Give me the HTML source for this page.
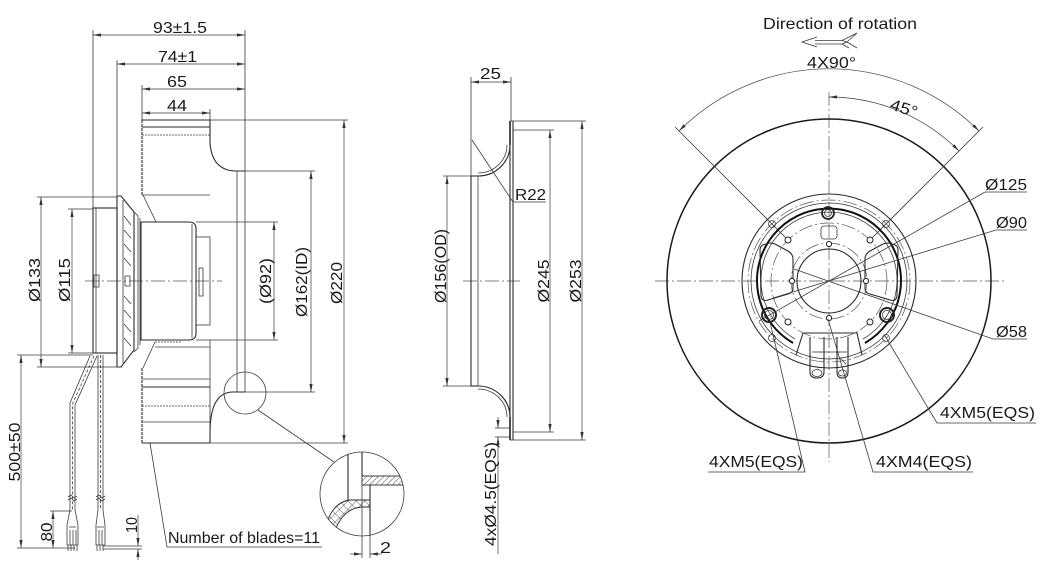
<!DOCTYPE html>
<html><head><meta charset="utf-8"><style>
html,body{margin:0;padding:0;background:#fff;}
svg{display:block;}
text{font-family:"Liberation Sans",Arial,sans-serif;font-size:16px;fill:#1a1a1a;}
.t{stroke:#3a3a3a;stroke-width:0.8;fill:none;}
.k{stroke:#1a1a1a;stroke-width:1.5;fill:none;}
.m{stroke:#2a2a2a;stroke-width:1.1;fill:none;}
.c{stroke:#555;stroke-width:0.7;fill:none;stroke-dasharray:14 3 2 3;}
.h{stroke:#3a3a3a;stroke-width:0.7;fill:none;}
</style></head><body>
<svg width="1049" height="571" viewBox="0 0 1049 571" xmlns="http://www.w3.org/2000/svg">
<defs>
<marker id="a" viewBox="0 0 10 4" refX="10" refY="2" markerWidth="8" markerHeight="3.2" orient="auto-start-reverse" markerUnits="userSpaceOnUse"><path d="M0,0 L10,2 L0,4 Z" fill="#333"/></marker>
<pattern id="hatch" width="4" height="4" patternUnits="userSpaceOnUse" patternTransform="rotate(45)"><line x1="0" y1="0" x2="0" y2="4" stroke="#333" stroke-width="0.9"/></pattern>
<pattern id="xhatch" width="6" height="6" patternUnits="userSpaceOnUse" patternTransform="rotate(45)"><path d="M0,0 V6 M0,0 H6" stroke="#333" stroke-width="0.8" fill="none"/></pattern>
<clipPath id="dc"><circle cx="362" cy="494" r="42"/></clipPath>
</defs>

<!-- ================= LEFT VIEW ================= -->
<line class="c" x1="85" y1="281" x2="222" y2="281"/>

<line class="t" x1="93" y1="30" x2="93" y2="208"/>
<line class="t" x1="245" y1="30" x2="245" y2="392"/>
<line class="t" x1="237" y1="171" x2="237" y2="392"/>
<line class="t" x1="117" y1="60" x2="117" y2="196"/>
<line class="t" x1="142" y1="85" x2="142" y2="120"/>
<line class="t" x1="210" y1="109" x2="210" y2="120"/>
<line class="h" x1="93" y1="35" x2="245" y2="35" marker-start="url(#a)" marker-end="url(#a)"/>
<line class="h" x1="117" y1="64" x2="245" y2="64" marker-start="url(#a)" marker-end="url(#a)"/>
<line class="h" x1="142" y1="89" x2="245" y2="89" marker-start="url(#a)" marker-end="url(#a)"/>
<line class="h" x1="142" y1="113" x2="210" y2="113" marker-start="url(#a)" marker-end="url(#a)"/>
<text x="153" y="33" textLength="54" lengthAdjust="spacingAndGlyphs">93±1.5</text>
<text x="158" y="62" textLength="39" lengthAdjust="spacingAndGlyphs">74±1</text>
<text x="167" y="87" textLength="20" lengthAdjust="spacingAndGlyphs">65</text>
<text x="167" y="111" textLength="20" lengthAdjust="spacingAndGlyphs">44</text>

<!-- impeller upper -->
<path class="m" d="M142,120 H210 V143 Q212,170 235,171 H245"/>
<line class="m" x1="142" y1="127" x2="210" y2="127"/>
<line class="t" x1="142" y1="135" x2="210" y2="135" stroke-dasharray="2 1"/>
<line class="m" x1="142" y1="120" x2="142" y2="195" stroke-dasharray="3 1"/>
<line class="t" x1="142" y1="195" x2="210" y2="195"/>
<line class="t" x1="143" y1="195" x2="156" y2="222"/>
<line class="t" x1="156" y1="222" x2="182" y2="222" stroke-dasharray="2 1"/>
<!-- impeller lower -->
<line class="t" x1="155" y1="342" x2="182" y2="342" stroke-dasharray="2 1"/>
<line class="t" x1="155" y1="347" x2="210" y2="347"/>
<line class="t" x1="155" y1="342" x2="143" y2="368"/>
<line class="m" x1="142" y1="368" x2="142" y2="443" stroke-dasharray="3 1"/>
<line class="t" x1="210" y1="340" x2="210" y2="433"/>
<line class="t" x1="142" y1="379" x2="210" y2="379"/>
<line class="m" x1="142" y1="387" x2="210" y2="387"/>
<line class="t" x1="142" y1="406" x2="210" y2="406" stroke-dasharray="2 1"/>
<line class="t" x1="142" y1="422" x2="210" y2="422"/>
<line class="m" x1="142" y1="443" x2="210" y2="443"/>
<path class="m" d="M245,392 H233 Q210,392 210,433 V443"/>

<!-- motor -->
<rect class="m" x="93" y="208" width="24" height="145"/>
<line class="t" x1="96" y1="208" x2="96" y2="353"/>
<rect class="t" x="94" y="275" width="5" height="12"/>
<path class="m" d="M117,196 H121 L134,212 V350 L121,367 H117 Z"/>
<line class="t" x1="123" y1="200" x2="123" y2="363"/>
<path class="t" d="M124,216 L131,225 M124,230 L131,238 M124,244 L131,252 M124,258 L131,266 M124,296 L131,304 M124,310 L131,318 M124,324 L131,332 M124,338 L131,346 M125,276 h5 v10 h-5 z"/>
<path class="t" d="M134,212 L138,216 V348 L134,352"/>
<line class="t" x1="140" y1="218" x2="140" y2="345"/>
<path class="m" d="M141,222 H189 Q196,222 196,229 V333 Q196,340 189,340 H141 Z"/>
<line class="t" x1="192" y1="224" x2="192" y2="338"/>
<rect class="t" x="196" y="237" width="14" height="88"/>
<rect class="t" x="199" y="268" width="4" height="28"/>

<!-- cables -->
<path class="t" d="M90,356 L70,403 V510"/>
<path class="t" d="M97,356 L75,405 V510"/>
<path class="t" d="M94,356 L72.5,404 V510" stroke-dasharray="3 2"/>
<line class="t" x1="98" y1="355" x2="98" y2="510"/>
<line class="t" x1="103" y1="355" x2="103" y2="510"/>
<line class="t" x1="100.5" y1="355" x2="100.5" y2="510" stroke-dasharray="3 2"/>
<path class="t" d="M68,497 l3,-2 l3,3 l3,-2 M68,500 l3,-2 l3,3 l3,-2 M96,497 l3,-2 l3,3 l3,-2 M96,500 l3,-2 l3,3 l3,-2"/>
<path class="t" d="M70,510 L67,525 V545 H78 V525 L75,510 M69,527 H76 M70,530 V545 M73,530 V545 M76,530 V545 M68,545 V551 M71,545 V551 M74,545 V551 M77,545 V551"/>
<path class="t" d="M98,510 L96,525 V545 H105 V525 L103,510 M97,527 H104 M99,530 V545 M102,530 V545 M97,545 V551 M100,545 V551 M103,545 V551"/>

<!-- left dims -->
<line class="t" x1="37" y1="197" x2="117" y2="197"/>
<line class="t" x1="37" y1="367" x2="122" y2="367"/>
<line class="h" x1="41" y1="197" x2="41" y2="367" marker-start="url(#a)" marker-end="url(#a)"/>
<line class="t" x1="68" y1="209" x2="93" y2="209"/>
<line class="t" x1="68" y1="353" x2="93" y2="353"/>
<line class="h" x1="72" y1="209" x2="72" y2="353" marker-start="url(#a)" marker-end="url(#a)"/>
<line class="t" x1="17" y1="355" x2="93" y2="355"/>
<line class="t" x1="17" y1="548" x2="75" y2="548"/>
<line class="h" x1="21" y1="355" x2="21" y2="548" marker-start="url(#a)" marker-end="url(#a)"/>
<line class="t" x1="50" y1="511" x2="72" y2="511"/>
<line class="h" x1="53" y1="511" x2="53" y2="548" marker-start="url(#a)" marker-end="url(#a)"/>
<line class="t" x1="103" y1="546" x2="142" y2="546"/>
<line class="t" x1="103" y1="549" x2="142" y2="549"/>
<line class="h" x1="138" y1="515" x2="138" y2="546" marker-end="url(#a)"/>
<line class="h" x1="138" y1="560" x2="138" y2="549" marker-end="url(#a)"/>
<text transform="translate(40,280) rotate(-90)" text-anchor="middle" textLength="44" lengthAdjust="spacingAndGlyphs">Ø133</text>
<text transform="translate(70,280) rotate(-90)" text-anchor="middle" textLength="44" lengthAdjust="spacingAndGlyphs">Ø115</text>
<text transform="translate(20,452) rotate(-90)" text-anchor="middle" textLength="59" lengthAdjust="spacingAndGlyphs">500±50</text>
<text transform="translate(52,532) rotate(-90)" text-anchor="middle" textLength="19" lengthAdjust="spacingAndGlyphs">80</text>
<text transform="translate(137,525) rotate(-90)" text-anchor="middle" textLength="16" lengthAdjust="spacingAndGlyphs">10</text>

<line class="t" x1="196" y1="222" x2="278" y2="222"/>
<line class="t" x1="196" y1="340" x2="278" y2="340"/>
<line class="h" x1="274" y1="222" x2="274" y2="340" marker-start="url(#a)" marker-end="url(#a)"/>
<line class="t" x1="245" y1="171" x2="315" y2="171"/>
<line class="t" x1="245" y1="392" x2="315" y2="392"/>
<line class="h" x1="311" y1="171" x2="311" y2="392" marker-start="url(#a)" marker-end="url(#a)"/>
<line class="t" x1="210" y1="120" x2="348" y2="120"/>
<line class="t" x1="210" y1="443" x2="348" y2="443"/>
<line class="h" x1="344" y1="120" x2="344" y2="443" marker-start="url(#a)" marker-end="url(#a)"/>
<text transform="translate(271,281) rotate(-90)" text-anchor="middle" textLength="46" lengthAdjust="spacingAndGlyphs">(Ø92)</text>
<text transform="translate(307,282) rotate(-90)" text-anchor="middle" textLength="70" lengthAdjust="spacingAndGlyphs">Ø162(ID)</text>
<text transform="translate(342,283) rotate(-90)" text-anchor="middle" textLength="42" lengthAdjust="spacingAndGlyphs">Ø220</text>

<polyline class="t" points="150,443 167,547 322,547"/>
<text x="168" y="543" textLength="152" lengthAdjust="spacingAndGlyphs">Number of blades=11</text>

<!-- detail -->
<circle class="t" cx="245" cy="393" r="21"/>
<line class="t" x1="258" y1="410" x2="334" y2="462"/>
<circle class="t" cx="362" cy="494" r="42"/>
<g clip-path="url(#dc)">
<path d="M327,522 Q334,502 350,500 H370 V507 H361 Q344,509 336,528 Z" fill="url(#xhatch)" stroke="#2a2a2a" stroke-width="0.9"/>
<rect x="362" y="476" width="45" height="9" fill="url(#hatch)" stroke="#2a2a2a" stroke-width="0.9"/>
<line class="m" x1="348" y1="450" x2="348" y2="500"/>
<line class="m" x1="362" y1="450" x2="362" y2="476"/>
<line class="m" x1="370" y1="485" x2="370" y2="540"/>
</g>
<line class="t" x1="362" y1="485" x2="362" y2="558"/>
<line class="t" x1="370" y1="530" x2="370" y2="558"/>
<line class="h" x1="350" y1="554" x2="362" y2="554" marker-end="url(#a)"/>
<line class="h" x1="382" y1="554" x2="370" y2="554" marker-end="url(#a)"/>
<text x="380" y="553" textLength="11" lengthAdjust="spacingAndGlyphs">2</text>

<!-- ================= MIDDLE VIEW ================= -->
<line class="c" x1="463" y1="281" x2="520" y2="281"/>
<line class="t" x1="471" y1="77" x2="471" y2="176"/>
<line class="t" x1="511" y1="77" x2="511" y2="121"/>
<line class="h" x1="471" y1="82" x2="511" y2="82" marker-start="url(#a)" marker-end="url(#a)"/>
<text x="480" y="79" textLength="21" lengthAdjust="spacingAndGlyphs">25</text>
<line x1="510" y1="121" x2="510" y2="145" stroke="#222" stroke-width="1.6"/>
<line x1="510" y1="417" x2="510" y2="440" stroke="#222" stroke-width="1.6"/>
<line class="m" x1="510" y1="145" x2="510" y2="417"/>
<line class="m" x1="513" y1="121" x2="513" y2="440"/>
<line class="t" x1="510" y1="121" x2="513" y2="121"/>
<line class="t" x1="510" y1="440" x2="513" y2="440"/>
<path class="m" d="M510,145 A32,31 0 0 1 478,176" stroke-width="1.5"/>
<path class="t" d="M507,145 A29,28 0 0 1 478,173"/>
<path class="m" d="M478,386 A32,31 0 0 1 510,417" stroke-width="1.5"/>
<path class="t" d="M478,389 A29,28 0 0 1 507,417"/>
<line class="m" x1="471" y1="176" x2="478" y2="176"/>
<line class="m" x1="471" y1="386" x2="478" y2="386"/>
<line class="m" x1="471" y1="176" x2="471" y2="386"/>
<line class="t" x1="478" y1="176" x2="478" y2="386"/>
<polyline class="t" points="472,140 513,202 546,202"/>
<text x="515" y="200" textLength="31" lengthAdjust="spacingAndGlyphs">R22</text>
<line class="t" x1="443" y1="176" x2="471" y2="176"/>
<line class="t" x1="443" y1="386" x2="471" y2="386"/>
<line class="h" x1="447" y1="176" x2="447" y2="386" marker-start="url(#a)" marker-end="url(#a)"/>
<line class="t" x1="513" y1="130" x2="554" y2="130"/>
<line class="t" x1="513" y1="432" x2="554" y2="432"/>
<line class="h" x1="550" y1="130" x2="550" y2="432" marker-start="url(#a)" marker-end="url(#a)"/>
<line class="t" x1="513" y1="121" x2="586" y2="121"/>
<line class="t" x1="513" y1="440" x2="586" y2="440"/>
<line class="h" x1="582" y1="121" x2="582" y2="440" marker-start="url(#a)" marker-end="url(#a)"/>
<line class="t" x1="495" y1="428" x2="510" y2="428"/>
<line class="t" x1="495" y1="437" x2="510" y2="437"/>
<line class="h" x1="498" y1="417" x2="498" y2="428" marker-end="url(#a)"/>
<line class="h" x1="498" y1="554" x2="498" y2="437" marker-end="url(#a)"/>
<text transform="translate(446,266) rotate(-90)" text-anchor="middle" textLength="74" lengthAdjust="spacingAndGlyphs">Ø156(OD)</text>
<text transform="translate(549,281) rotate(-90)" text-anchor="middle" textLength="43" lengthAdjust="spacingAndGlyphs">Ø245</text>
<text transform="translate(581,281) rotate(-90)" text-anchor="middle" textLength="43" lengthAdjust="spacingAndGlyphs">Ø253</text>
<text transform="translate(496,494) rotate(-90)" text-anchor="middle" textLength="104" lengthAdjust="spacingAndGlyphs">4xØ4.5(EQS)</text>

<!-- ================= RIGHT VIEW ================= -->
<text x="763" y="29" textLength="154" lengthAdjust="spacingAndGlyphs">Direction of rotation</text>
<path class="t" d="M817,37 L802,42 L817,47 M815,40.5 H842 L857,33 M815,44 H842 L849,48 M857,33 L847,42 L857,48 M842,40.5 L847,42 L842,44"/>
<text x="807" y="68" textLength="49" lengthAdjust="spacingAndGlyphs">4X90°</text>

<line class="c" x1="829" y1="92" x2="829" y2="462"/>
<line class="c" x1="655" y1="281" x2="1007" y2="281"/>
<circle class="k" cx="829" cy="281" r="162"/>
<path class="h" d="M679,131 A212,212 0 0 1 979,131" marker-start="url(#a)" marker-end="url(#a)"/>
<line class="t" x1="675" y1="127" x2="788" y2="240"/>
<line class="t" x1="983" y1="127" x2="870" y2="240"/>
<path class="h" d="M829,97 A184,184 0 0 1 959,151" marker-start="url(#a)" marker-end="url(#a)"/>
<text transform="translate(889,109) rotate(18)" textLength="28" lengthAdjust="spacingAndGlyphs">45°</text>

<circle class="m" cx="829" cy="281" r="87"/>
<circle class="t" cx="829" cy="281" r="78"/>
<circle class="c" cx="829" cy="281" r="81"/>
<path d="M793,343 A72,72 0 1 1 865,343" stroke="#111" stroke-width="2" fill="none"/>
<path class="t" d="M795,339 A68,68 0 1 1 863,339"/>
<circle class="c" cx="829" cy="281" r="58"/>
<circle class="c" cx="829" cy="281" r="38"/>
<circle class="m" cx="829" cy="281" r="32"/>
<path class="m" d="M796,355 L803,333 H857 L862,355"/>
<line class="t" x1="818" y1="352" x2="840" y2="352"/>
<path class="m" d="M810,337 V372 Q810,378 817,378 Q824,378 824,372 V337"/>
<ellipse class="t" cx="817" cy="373" rx="5" ry="3.5"/>
<line class="t" x1="812" y1="352" x2="822" y2="352"/>
<path class="m" d="M837,337 V372 Q837,378 842.5,378 Q848,378 848,372 V337"/>
<ellipse class="t" cx="842.5" cy="373" rx="4" ry="3"/>
<line class="t" x1="838" y1="352" x2="847" y2="352"/>
<line class="t" x1="840" y1="358" x2="846" y2="364"/>
<path class="m" d="M766,244 Q770,242 775,244 L788,251 Q793,254 793,259 L793,288 Q793,293 788,294 L768,300 Q762,302 761,296 L760,250 Q760,245 766,244 Z"/>
<path class="m" d="M892,244 Q888,242 883,244 L870,251 Q865,254 865,259 L865,288 Q865,293 870,294 L890,300 Q896,302 897,296 L898,250 Q898,245 892,244 Z"/>
<rect class="t" x="821" y="226" width="16" height="13" rx="3"/>
<circle cx="828" cy="213" r="6" stroke="#222" stroke-width="1.8" fill="none"/><circle class="t" cx="828" cy="213" r="3.5"/>
<circle cx="769" cy="315" r="7" stroke="#222" stroke-width="2" fill="none"/><circle class="t" cx="769" cy="315" r="4.5"/>
<circle cx="887" cy="315" r="7" stroke="#222" stroke-width="2" fill="none"/><circle class="t" cx="887" cy="315" r="4.5"/>
<g class="t">
<circle cx="772" cy="224" r="3.5"/><circle cx="886" cy="224" r="3.5"/>
<circle cx="772" cy="338" r="3.5"/><circle cx="886" cy="338" r="3.5"/>
</g>
<g stroke="#222" stroke-width="1" fill="#fff">
<circle cx="788" cy="240" r="3"/><circle cx="870" cy="240" r="3"/>
<circle cx="788" cy="322" r="3"/><circle cx="870" cy="322" r="3"/>
<circle cx="829" cy="244" r="2.6"/><circle cx="792" cy="281" r="2.6"/>
<circle cx="866" cy="281" r="2.6"/><circle cx="829" cy="318" r="2.6"/>
</g>
<polyline class="t" points="1027,192 985,192 759,321"/>
<text x="985" y="190" textLength="42" lengthAdjust="spacingAndGlyphs">Ø125</text>
<polyline class="t" points="1027,230 996,230 773,298"/>
<text x="996" y="228" textLength="31" lengthAdjust="spacingAndGlyphs">Ø90</text>
<polyline class="t" points="1027,339 993,339 794,269"/>
<text x="996" y="337" textLength="31" lengthAdjust="spacingAndGlyphs">Ø58</text>
<polyline class="t" points="1036,423 937,423 885,336"/>
<text x="940" y="418" textLength="95" lengthAdjust="spacingAndGlyphs">4XM5(EQS)</text>
<polyline class="t" points="708,472 805,472 770,322"/>
<text x="709" y="467" textLength="94" lengthAdjust="spacingAndGlyphs">4XM5(EQS)</text>
<polyline class="t" points="973,472 873,472 828,319"/>
<text x="876" y="467" textLength="96" lengthAdjust="spacingAndGlyphs">4XM4(EQS)</text>
</svg>
</body></html>
